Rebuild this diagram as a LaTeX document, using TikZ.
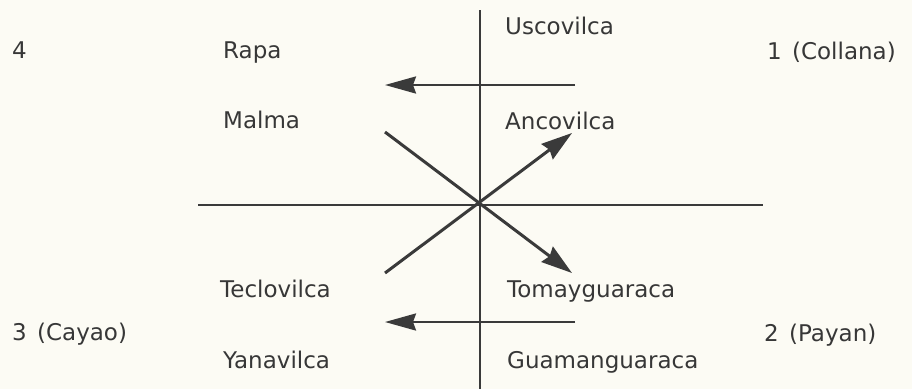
\documentclass[tikz,border=0pt]{standalone}
\usepackage{fontspec}
\setmainfont{DejaVu Sans}
\usetikzlibrary{arrows.meta}
\definecolor{bgcol}{RGB}{252,251,244}
\definecolor{ink}{RGB}{58,58,58}
\definecolor{txt}{RGB}{55,55,55}
\begin{document}
\begin{tikzpicture}[x=1pt,y=-1pt,
  lbl/.style={anchor=base west,inner sep=0pt,text=txt,font=\fontsize{23}{27}\selectfont},
  axis/.style={draw=ink,line width=2pt},
  arr/.style={draw=ink,line width=3pt,-{Stealth[length=31pt,width=19pt,inset=3pt]}},
  harr/.style={draw=ink,line width=2.5pt,-{Stealth[length=31pt,width=17pt,inset=3pt]}}]
\fill[bgcol] (0,0) rectangle (912,389);
\useasboundingbox (0,0) rectangle (912,389);
% axes
\coordinate (vtop) at (480,10);
\coordinate (vbot) at (480,389);
\coordinate (hl) at (198,205);
\coordinate (hr) at (763,205);
\draw[axis] (vtop) -- (vbot);
\draw[axis] (hl) -- (hr);
% horizontal arrows
\coordinate (a1s) at (575,85);
\coordinate (a1e) at (385,85);
\coordinate (a2s) at (575,322);
\coordinate (a2e) at (385,322);
\draw[harr] (a1s) -- (a1e);
\draw[harr] (a2s) -- (a2e);
% diagonals
\coordinate (sw) at (385,273);
\coordinate (ne) at (572,133);
\coordinate (nw) at (385,132);
\coordinate (se) at (572,273);
\draw[arr] (sw) -- (ne);
\draw[arr] (nw) -- (se);
% labels
\node[lbl] (n4) at (12,58) {4};
\node[lbl] (rapa) at (223,58) {Rapa};
\node[lbl] (usco) at (505,34) {Uscovilca};
\node[lbl] (coll) at (767,59) {1\kern3pt{} (Collana)};
\node[lbl] (malma) at (223,128) {Malma};
\node[lbl] (anco) at (505,129) {Ancovilca};
\node[lbl] (teclo) at (220,297) {Teclovilca};
\node[lbl] (toma) at (507,297) {Tomayguaraca};
\node[lbl] (cayao) at (12,340) {3\kern3pt{} (Cayao)};
\node[lbl] (payan) at (764,341) {2\kern3pt{} (Payan)};
\node[lbl] (yana) at (223,368) {Yanavilca};
\node[lbl] (guama) at (507,368) {Guamanguaraca};
\end{tikzpicture}
\end{document}
